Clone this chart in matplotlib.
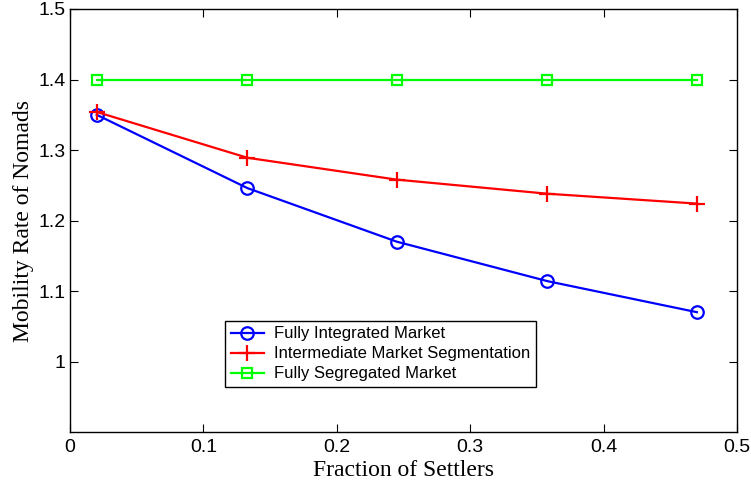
#!/usr/bin/env python3
"""
Mobility rate of nomads vs fraction of settlers
"""

import matplotlib
matplotlib.use('Agg')
import matplotlib.pyplot as plt

# Data
fraction_settlers = [0.02, 0.133, 0.245, 0.358, 0.47]
integrated = [1.350, 1.246, 1.170, 1.114, 1.070]
intermediate = [1.354, 1.289, 1.258, 1.238, 1.224]
segregated = [1.40, 1.40, 1.40, 1.40, 1.40]

labels = ['Fully Integrated Market',
          'Intermediate Market Segmentation',
          'Fully Segregated Market']

x_ticks = [0, 0.1, 0.2, 0.3, 0.4, 0.5]
y_ticks = [1, 1.1, 1.2, 1.3, 1.4, 1.5]
y_tick_labels = ['1', '1.1', '1.2', '1.3', '1.4', '1.5']
x_tick_labels = ['0', '0.1', '0.2', '0.3', '0.4', '0.5']


def main():
    fig = plt.figure(figsize=(7.51, 4.86), dpi=100)
    ax = fig.add_axes([0.0932, 0.111, 0.888, 0.8705])

    ax.plot(fraction_settlers, integrated, '-o', color='#0000ff', lw=1.6,
            ms=9, mfc='none', mew=1.6, label=labels[0])
    ax.plot(fraction_settlers, intermediate, '-+', color='#ff0000', lw=1.6,
            ms=11, mew=1.6, label=labels[1])
    ax.plot(fraction_settlers, segregated, '-s', color='#00ff00', lw=1.6,
            ms=7, mfc='none', mew=1.6, label=labels[2])

    ax.set_xlim(0, 0.5)
    ax.set_ylim(0.9, 1.5)
    ax.set_xticks(x_ticks)
    ax.set_xticklabels(x_tick_labels)
    ax.set_yticks(y_ticks)
    ax.set_yticklabels(y_tick_labels)

    for lab in ax.get_xticklabels() + ax.get_yticklabels():
        lab.set_fontfamily('Liberation Sans')
        lab.set_fontsize(14)

    ax.tick_params(direction='in', top=True, right=True, length=6, width=0.8)
    ax.tick_params(axis='x', pad=5)
    ax.tick_params(axis='y', pad=3)
    for sp in ax.spines.values():
        sp.set_linewidth(1.0)

    ax.set_xlabel('Fraction of Settlers', fontfamily='Liberation Serif', fontsize=17, labelpad=3)
    ax.set_ylabel('Mobility Rate of Nomads', fontfamily='Liberation Serif', fontsize=17, labelpad=3)

    leg = ax.legend(loc='lower left', bbox_to_anchor=(0.232, 0.106), borderaxespad=0,
                    prop={'family': 'Liberation Sans', 'size': 12}, fancybox=False,
                    edgecolor='black', framealpha=1, handlelength=2.0, handletextpad=0.6,
                    labelspacing=0.3, borderpad=0.35)
    leg.get_frame().set_linewidth(1.0)

    plt.savefig('out.png', dpi=100)
    plt.close()


if __name__ == "__main__":
    main()
